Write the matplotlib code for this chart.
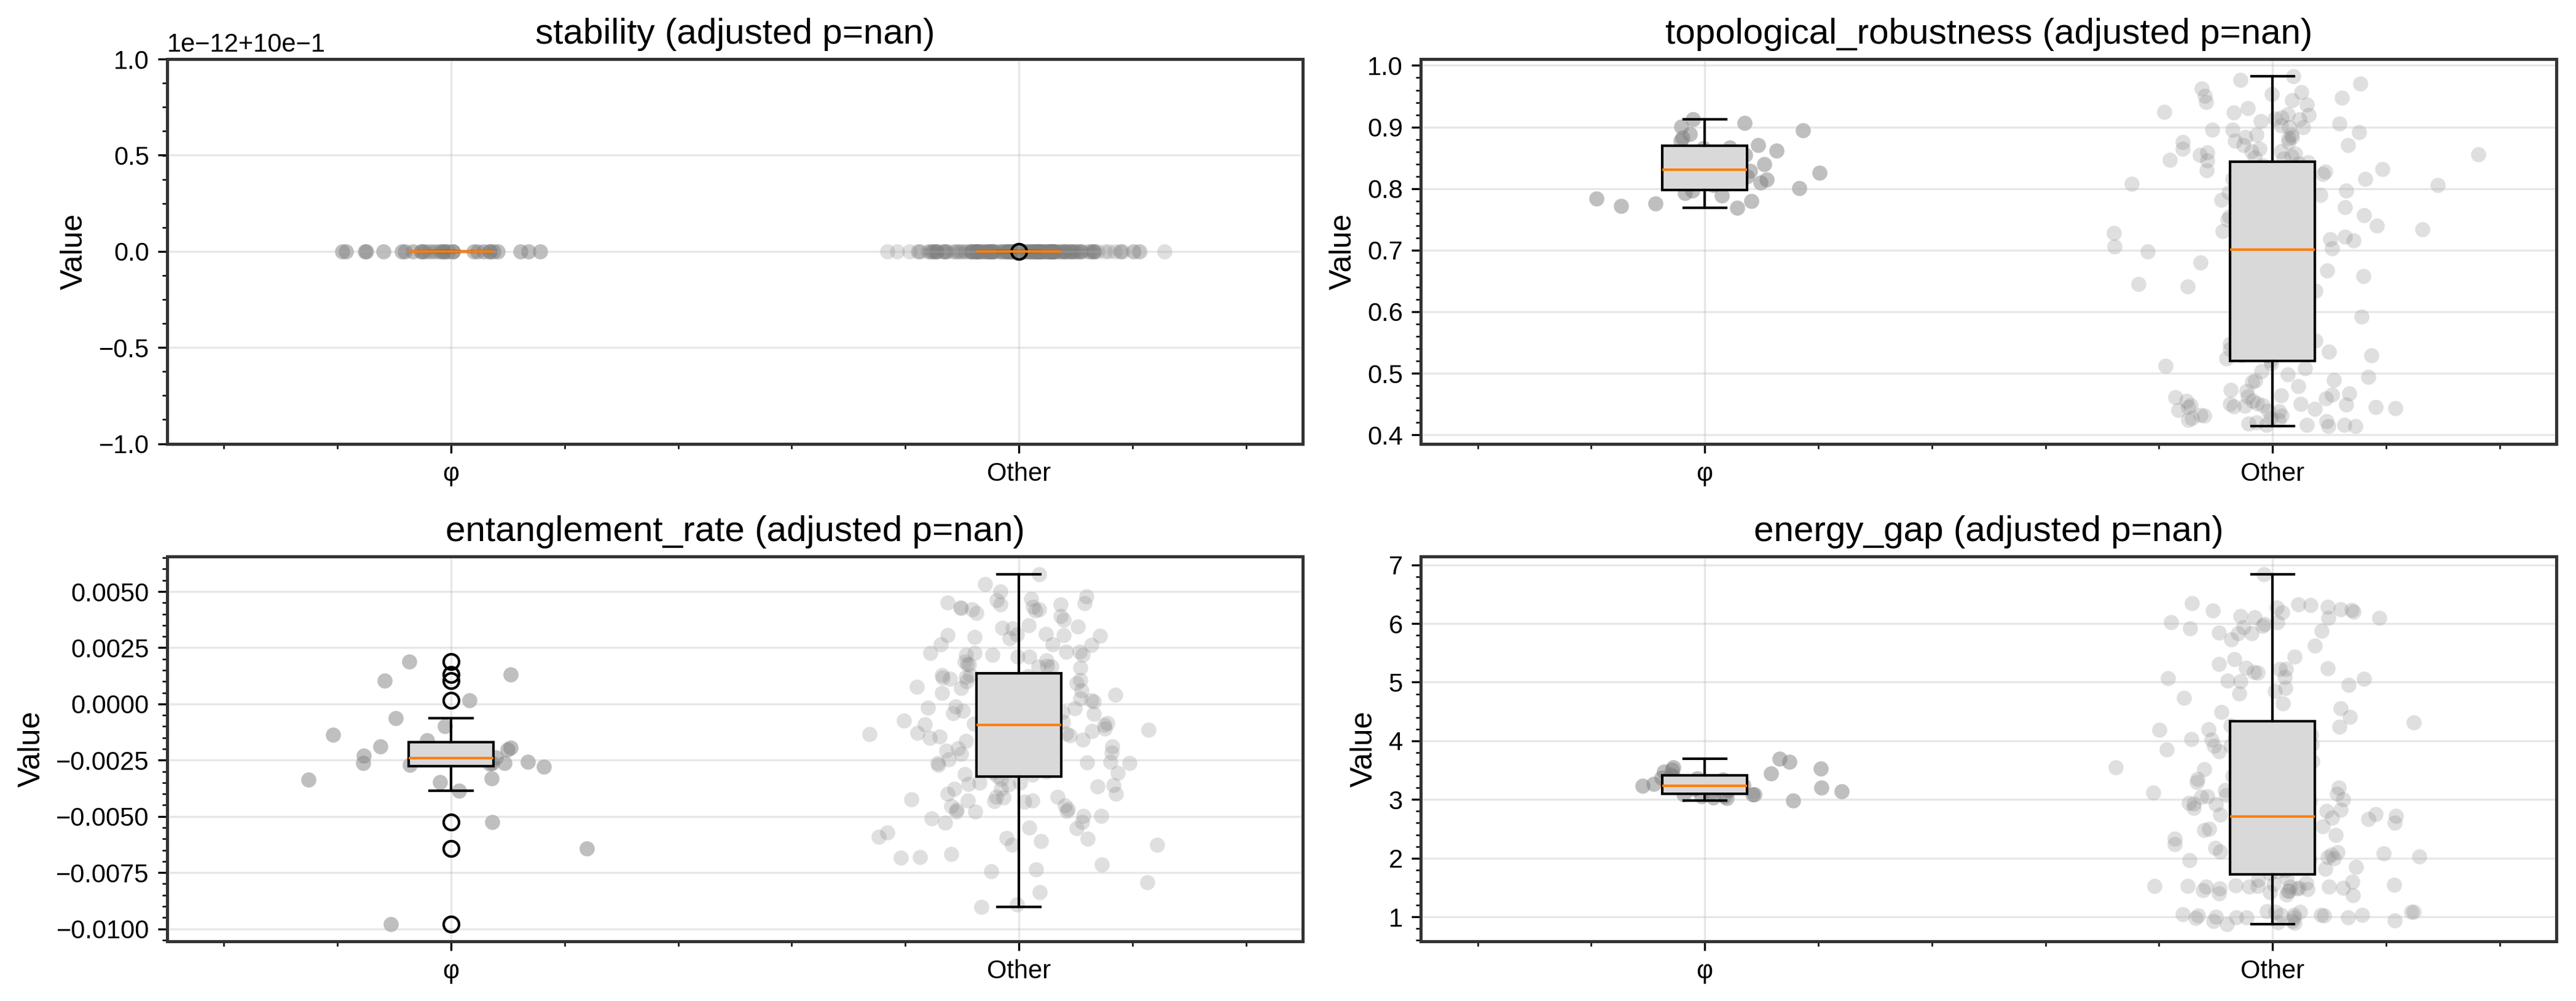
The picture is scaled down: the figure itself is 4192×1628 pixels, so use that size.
import numpy as np
import matplotlib
matplotlib.use("Agg")
import matplotlib.pyplot as plt

plt.rcParams['font.family'] = ['Liberation Sans', 'DejaVu Sans']

# ---------------- data ----------------
groups = ["φ", "Other"]
metrics = ["stability", "topological_robustness", "entanglement_rate", "energy_gap"]
adjusted_p = ["nan", "nan", "nan", "nan"]

stability_phi = [1.0] * 30
stability_other = [1.0] * 199 + [1.0000000000000002]

topo_phi = [0.780, 0.801, 0.866, 0.815, 0.889, 0.784, 0.806, 0.867, 0.878, 0.789,
            0.769, 0.776, 0.772, 0.797, 0.913, 0.793, 0.810, 0.895, 0.901, 0.907,
            0.871, 0.855, 0.840, 0.883, 0.820, 0.826, 0.829, 0.833, 0.848, 0.862]

topo_other = [
    0.982, 0.976, 0.970, 0.963, 0.957, 0.954, 0.951, 0.948, 0.944, 0.941,
    0.937, 0.931, 0.925, 0.924, 0.921, 0.920, 0.916, 0.914, 0.913, 0.910,
    0.906, 0.903, 0.900, 0.900, 0.896, 0.896, 0.892, 0.888, 0.888, 0.884,
    0.884, 0.882, 0.878, 0.876, 0.876, 0.871, 0.871, 0.865, 0.865, 0.861,
    0.861, 0.859, 0.857, 0.856, 0.855, 0.853, 0.851, 0.849, 0.847, 0.846,
    0.841, 0.835, 0.816, 0.816, 0.806, 0.806, 0.794, 0.782, 0.810, 0.802,
    0.790, 0.779, 0.755, 0.743, 0.734, 0.722, 0.706, 0.725, 0.731,
    0.843, 0.838, 0.832, 0.828, 0.824, 0.820, 0.812, 0.800, 0.797, 0.786,
    0.775, 0.770, 0.765, 0.760, 0.750, 0.746, 0.738, 0.728, 0.718, 0.714,
    0.710, 0.703, 0.702, 0.826, 0.808, 0.784, 0.768, 0.757, 0.740, 0.716, 0.830,
    0.698, 0.684, 0.676, 0.667, 0.655, 0.649, 0.641, 0.624, 0.615, 0.612,
    0.610, 0.587, 0.570, 0.555, 0.553, 0.545, 0.529, 0.535, 0.529, 0.529,
    0.535, 0.584, 0.537, 0.539,
    0.700, 0.694, 0.688, 0.680, 0.672, 0.662, 0.658, 0.645, 0.636, 0.630,
    0.620, 0.604, 0.598, 0.592, 0.578, 0.565, 0.560, 0.548, 0.541, 0.531,
    0.524, 0.521, 0.600, 0.634, 0.690, 0.575,
    0.414, 0.414, 0.416, 0.416, 0.416, 0.418, 0.420, 0.422, 0.424, 0.424,
    0.427, 0.427, 0.431, 0.431, 0.432, 0.438, 0.439, 0.440, 0.442, 0.443,
    0.445, 0.445, 0.446, 0.447, 0.448, 0.448, 0.449, 0.450, 0.450, 0.451,
    0.455, 0.455, 0.459, 0.461, 0.462, 0.464, 0.465, 0.467, 0.471, 0.473,
    0.479, 0.486, 0.488, 0.489, 0.494, 0.498, 0.503, 0.508, 0.512, 0.516]

ent_phi = [-0.00978, -0.00644, -0.00525, -0.00385, -0.00347, -0.00338, -0.00332,
           -0.00278, -0.00270, -0.00266, -0.00264, -0.00264, -0.00264, -0.00256,
           -0.00243, -0.00241, -0.00239, -0.00230, -0.00220, -0.00195, -0.00190,
           -0.00202, -0.00162, -0.00137, -0.00100, -0.00063, 0.00016, 0.00104,
           0.00132, 0.00189]

ent_other = [
    0.00577, 0.00532, 0.00501, 0.00478, 0.00467, 0.00461, 0.00450, 0.00447, 0.00444, 0.00444,
    0.00433, 0.00430, 0.00427, 0.00422, 0.00422, 0.00416, 0.00405, 0.00390, 0.00373, 0.00350,
    0.00345, 0.00340, 0.00337, 0.00312, 0.00308, 0.00305, 0.00305, 0.00303, 0.00299, 0.00291,
    0.00265, 0.00265, 0.00263, 0.00232, 0.00231, 0.00227, 0.00226, 0.00218, 0.00218, 0.00218,
    0.00209, 0.00209, 0.00195, 0.00188, 0.00178, 0.00176, 0.00170, 0.00167, 0.00167, 0.00161,
    0.00127, 0.00084, 0.00050, 0.00048, 0.00082, 0.00093, 0.00059, 0.00107, 0.00036, 0.00048,
    0.00025, 0.00019, 0.00005, 0.00010, -0.00071, -0.00060, -0.00054, 0.00000, -0.00051, -0.00066,
    -0.00051, -0.00018, 0.00128, 0.00124, 0.00120, 0.00116, 0.00112, 0.00100, 0.00090,
    0.00070, 0.00064, 0.00042, 0.00030, 0.00015, -0.00005, -0.00010, -0.00025, -0.00030, -0.00035,
    -0.00040, -0.00045, -0.00062, -0.00075, -0.00080, -0.00085, -0.00089, -0.00020, 0.00075,
    0.00055, -0.00090,
    -0.00105, -0.00128, -0.00134, -0.00096, -0.00115, -0.00128, -0.00132, -0.00176, -0.00185,
    -0.00179, -0.00190, -0.00247, -0.00268, -0.00236, -0.00264, -0.00256, -0.00264, -0.00313,
    -0.00307, -0.00255, -0.00230,
    -0.00094, -0.00098, -0.00102, -0.00110, -0.00120, -0.00140, -0.00146, -0.00152, -0.00158,
    -0.00164, -0.00170, -0.00196, -0.00202, -0.00208, -0.00215, -0.00222, -0.00242, -0.00250,
    -0.00260, -0.00272, -0.00280, -0.00288, -0.00295, -0.00300, -0.00305, -0.00316, -0.00320,
    -0.00185, -0.00226,
    -0.00902, -0.00893, -0.00837, -0.00794, -0.00744, -0.00735, -0.00714, -0.00684, -0.00681, -0.00667,
    -0.00627, -0.00627, -0.00610, -0.00599, -0.00596, -0.00591, -0.00573, -0.00553, -0.00550, -0.00527,
    -0.00525, -0.00508, -0.00497, -0.00497, -0.00480, -0.00480, -0.00476, -0.00471, -0.00468, -0.00454,
    -0.00451, -0.00434, -0.00432, -0.00429, -0.00429, -0.00423, -0.00417, -0.00412, -0.00412, -0.00400,
    -0.00400, -0.00378, -0.00378, -0.00366, -0.00361, -0.00358, -0.00355, -0.00349, -0.00349, -0.00334]

energy_phi = [2.98, 3.02, 3.03, 3.05, 3.05, 3.09, 3.09, 3.09, 3.12, 3.14,
              3.16, 3.18, 3.20, 3.22, 3.23, 3.24, 3.26, 3.30, 3.34, 3.36,
              3.37, 3.39, 3.42, 3.44, 3.47, 3.51, 3.53, 3.55, 3.64, 3.69]

energy_other = [
    6.84, 6.35, 6.33, 6.31, 6.28, 6.27, 6.24, 6.23, 6.22, 6.20,
    6.19, 6.13, 6.10, 6.09, 6.09, 6.02, 6.02, 5.99, 5.96, 5.94,
    5.92, 5.87, 5.84, 5.83, 5.83, 5.73, 5.62, 5.43, 5.39, 5.31,
    5.25, 5.24, 5.23, 5.22, 5.17, 5.16, 5.09, 5.07, 5.06, 5.03,
    5.02, 4.95, 4.90, 4.85, 4.81, 4.73, 4.64, 4.55, 4.49, 4.41,
    4.20, 4.26, 3.98, 3.93, 3.94, 3.91, 3.91, 3.85, 3.52, 4.02,
    4.03, 3.77, 4.06, 4.19, 4.31, 3.16, 3.04, 3.00, 3.20, 3.05,
    2.94, 2.92, 3.10, 2.99, 3.08, 2.87, 2.82, 2.93, 2.78, 2.86,
    2.72, 2.75, 2.80, 2.90, 2.97, 3.12, 3.25, 3.30, 3.35, 3.40,
    3.45, 3.60, 3.65, 3.70, 3.82, 4.10, 4.15, 4.24, 2.74, 3.55,
    2.66, 2.60, 2.69, 2.68, 2.54, 2.43, 2.43, 2.31, 2.21, 2.55,
    2.44, 2.50, 2.68, 2.02, 1.98, 1.90, 1.95, 2.03, 1.91, 2.06,
    2.08, 2.05, 1.95,
    2.69, 2.67, 2.62, 2.58, 2.52, 2.48, 2.40, 2.36, 2.33, 2.27,
    2.24, 2.18, 2.14, 2.11, 2.00, 1.97, 1.93, 1.88, 1.85, 1.82,
    1.80, 1.78, 1.75, 2.10, 2.25, 2.38, 1.87,
    1.66, 1.63, 1.55, 1.54, 1.44, 1.44, 1.47, 1.49, 1.48, 1.51,
    1.52, 1.56, 1.45, 1.38, 1.51, 1.40, 1.42, 1.60, 1.58, 1.51,
    1.37, 1.48, 1.52, 1.51, 1.53, 1.49,
    0.94, 1.02, 1.08, 1.03, 1.03, 0.99, 1.08, 0.91, 0.99, 1.03,
    0.98, 1.08, 1.10, 0.93, 1.03, 0.93, 0.99, 1.00, 1.02, 1.04,
    0.90, 0.88, 1.08, 0.99]

panel_data = [
    (stability_phi, stability_other),
    (topo_phi, topo_other),
    (ent_phi, ent_other),
    (energy_phi, energy_other),
]

# ---------------- plot ----------------
fig, axes = plt.subplots(2, 2, figsize=(4192 / 300, 1628 / 300), dpi=300)
fig.subplots_adjust(left=0.0649, right=0.9924, top=0.941, bottom=0.0596,
                    wspace=0.104, hspace=0.294)

rng = np.random.default_rng(11)
group_alpha = [0.5, 0.25]
positions = [1, 2]

for ax, metric, p, (phi_vals, other_vals) in zip(axes.flat, metrics, adjusted_p, panel_data):
    vals = [np.asarray(phi_vals, dtype=float), np.asarray(other_vals, dtype=float)]
    for pos, v, a in zip(positions, vals, group_alpha):
        xj = pos + rng.normal(0, 0.1, len(v))
        ax.scatter(xj, v, s=35, color='gray', alpha=a, linewidths=0, zorder=1)
    bp = ax.boxplot(vals, positions=positions, widths=0.15, patch_artist=True)
    for b in bp['boxes']:
        b.set_facecolor('#d9d9d9')
        b.set_edgecolor('black')
    ax.set_xticks(positions)
    ax.set_xticklabels(groups)
    ax.set_xlim(0.5, 2.5)
    ax.set_title(f"{metric} (adjusted p={p})", fontsize=14)
    ax.set_ylabel("Value", fontsize=12)
    ax.minorticks_on()
    ax.grid(True, which='major', alpha=0.3)
    ax.tick_params(axis='both', which='major', labelsize=10)
    ax.yaxis.get_offset_text().set_fontsize(10)
    for sp in ax.spines.values():
        sp.set_color('#333333')
        sp.set_linewidth(1.2)

axes[0, 0].set_ylim(1 - 1e-12, 1 + 1e-12)

fig.savefig("out.png", dpi=300)
